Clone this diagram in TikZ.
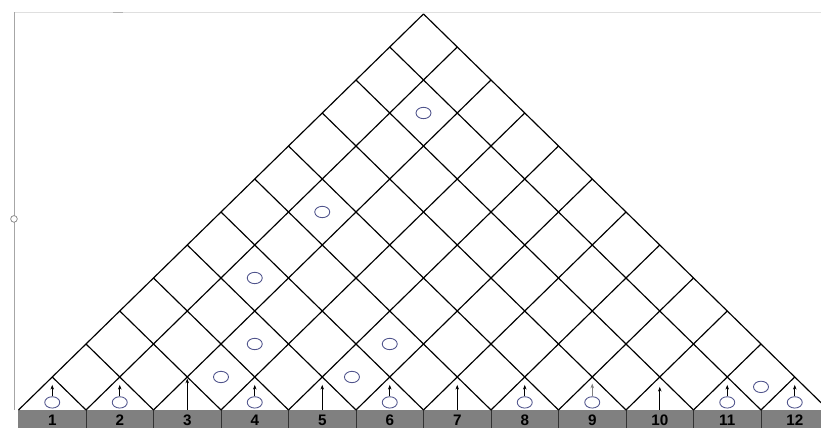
\documentclass[tikz,border=0pt]{standalone}
\usepackage{fontspec}
\setmainfont{Liberation Sans}
\usetikzlibrary{arrows.meta,shapes.geometric}
\definecolor{barra}{RGB}{128,128,128}
\definecolor{anello}{RGB}{80,84,140}
\begin{document}
\begin{tikzpicture}[x=2.025cm,y=0.99cm,
  griglia/.style={line width=1pt},
  pallino/.style={ellipse,draw=anello,line width=0.75pt,inner sep=0pt,minimum width=0.45cm,minimum height=0.34cm},
  freccia/.style={-{Stealth[length=4pt,width=3pt]},line width=0.5pt},
  numero/.style={font=\bfseries\fontsize{13}{13}\selectfont}]
        \useasboundingbox (-0.274,-0.545) rectangle (11.889,12.424);
        \clip (-0.274,-0.545) rectangle (11.889,12.424);
        % Bordi
        \draw [gray!25,line width=0.7pt] (-0.067,12.06) -- (11.889,12.06);
        \draw [gray!60,line width=0.7pt] (1.4,12.06) -- (1.55,12.06);
        \draw [gray!70,line width=0.5pt] (-0.067,12.06) -- (-0.067,0);
        \draw [gray,fill=white,line width=0.6pt] (-0.067,5.79) circle (0.1cm);
        % Barra
        \fill [barra] (0,-0.545) rectangle (11.889,0);
        \foreach \i in {0,...,12} \coordinate (b\i) at (\i,0);
        \foreach \i in {1,...,12} \draw [black!80] (b\i) -- (\i,-0.545);
        % Griglia
        \foreach \i in {0,...,12} {
            \draw [griglia] (b\i) -- ({(\i+12)/2},{12-\i});
            \draw [griglia] (b\i) -- ({\i/2},\i);
        }
        % Numeri
        \foreach \i in {1,...,12} \node [numero] (n\i) at (\i-0.5,-0.3) {\i};
        % Pallini e frecce
        \foreach \i in {1,2,4,6,8,11,12} {
            \node [pallino] (p\i) at (\i-0.5,0.23) {};
            \coordinate (t\i) at (\i-0.5,0.76);
            \draw [freccia] (p\i.north) -- (t\i);
        }
        \node [pallino] (p9) at (8.5,0.23) {};
        \coordinate (t9) at (8.5,0.8);
        \draw [freccia,gray] (p9.north) -- (t9);
        \foreach \i/\h in {3/0.95,5/0.76,7/0.76,10/0.7} {
            \coordinate (s\i) at (\i-0.5,0);
            \coordinate (t\i) at (\i-0.5,\h);
            \draw [freccia] (s\i) -- (t\i);
        }
        \foreach \x/\y [count=\k] in {3/1,4.94/1,11/0.7,3.5/2,5.5/2,3.5/4,4.5/6,6/9}
            \node [pallino] (q\k) at (\x,\y) {};
    \end{tikzpicture}
\end{document}
